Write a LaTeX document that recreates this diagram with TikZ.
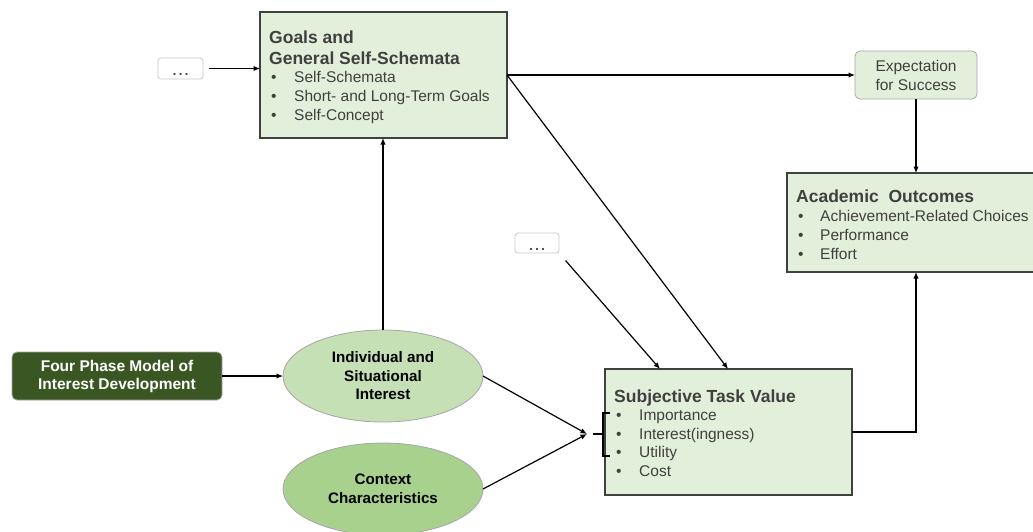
\documentclass[tikz,border=0pt]{standalone}
\usepackage{fontspec}
\setmainfont{Liberation Sans}
\usetikzlibrary{arrows.meta,shapes.geometric}
\definecolor{boxfill}{HTML}{E2EFDA}
\definecolor{boxdraw}{HTML}{404040}
\definecolor{ellA}{HTML}{C5E0B4}
\definecolor{ellB}{HTML}{A9D18E}
\definecolor{darkgr}{HTML}{3A5723}
\definecolor{txtgray}{HTML}{404040}
\definecolor{lightedge}{HTML}{A6A6A6}
\definecolor{dotedge}{HTML}{C8C8C8}
\newcommand\bodyfnt{\fontsize{15.5}{19}\selectfont}
\newcommand\titlefnt{\fontsize{17.5}{21}\selectfont\bfseries}
\begin{document}
\begin{tikzpicture}[x=1pt,y=-1pt,
  greenbox/.style={draw=boxdraw,fill=boxfill,line width=1.2pt,inner sep=0pt,outer sep=0pt,anchor=north west},
  ttl/.style={anchor=base west,inner sep=0pt,text=txtgray,font=\titlefnt},
  itm/.style={anchor=base west,inner sep=0pt,text=txtgray,font=\bodyfnt},
  ell/.style={ellipse,draw=lightedge,line width=0.8pt,inner sep=0pt,outer sep=0pt,minimum width=200,minimum height=92,align=center,font=\fontsize{15.2}{18.5}\selectfont\bfseries},
  dotbox/.style={draw=dotedge,fill=white,rounded corners=3pt,line width=0.8pt,inner sep=0pt,outer sep=0pt,text=txtgray,font=\fontsize{19}{19}\selectfont},
  arr/.style={-{Latex[length=6.5pt,width=5.5pt]},line width=1.2pt,black},
  ln/.style={line width=1.2pt,black}]
\useasboundingbox (0,0) rectangle (1033,531);

% Goals box
\node[greenbox,minimum width=247,minimum height=126] (goals) at (260,12) {};
\node[ttl] (gt1) at (269,43) {Goals and};
\node[ttl] (gt2) at (269,64) {General Self-Schemata};
\node[itm] (gb1) at (271,82) {•};
\node[itm] (gi1) at (294,82) {Self-Schemata};
\node[itm] (gb2) at (271,101) {•};
\node[itm] (gi2) at (294,101) {Short- and Long-Term Goals};
\node[itm] (gb3) at (271,120) {•};
\node[itm] (gi3) at (294,120) {Self-Concept};

% Academic outcomes
\node[greenbox,minimum width=252,minimum height=99] (acad) at (787,173) {};
\node[ttl] (at1) at (796,202) {Academic\ \ Outcomes};
\node[itm] (ab1) at (798,221) {•};
\node[itm] (ai1) at (820,221) {Achievement-Related Choices};
\node[itm] (ab2) at (798,240) {•};
\node[itm] (ai2) at (820,240) {Performance};
\node[itm] (ab3) at (798,259) {•};
\node[itm] (ai3) at (820,259) {Effort};

% Subjective task value
\node[greenbox,minimum width=247,minimum height=126] (stv) at (605,369) {};
\node[ttl] (st1) at (614,402) {Subjective Task Value};
\node[itm] (sb1) at (616,420) {•};
\node[itm] (si1) at (639,420) {Importance};
\node[itm] (sb2) at (616,439) {•};
\node[itm] (si2) at (639,439) {Interest(ingness)};
\node[itm] (sb3) at (616,457) {•};
\node[itm] (si3) at (639,457) {Utility};
\node[itm] (sb4) at (616,476) {•};
\node[itm] (si4) at (639,476) {Cost};

% Expectation
\node[draw=lightedge,fill=boxfill,rounded corners=5pt,line width=0.8pt,minimum width=122,minimum height=48,inner sep=0pt,outer sep=0pt,align=center,text=txtgray,font=\fontsize{15.5}{19}\selectfont] (exp) at (916,75) {Expectation\\for Success};

% dots
\node[dotbox,minimum width=45,minimum height=21] (dots1) at (180.5,68.5) {\raisebox{-7pt}[0pt][0pt]{…}};
\node[dotbox,minimum width=44,minimum height=20] (dots2) at (537,243) {\raisebox{-7pt}[0pt][0pt]{…}};

% Four phase
\node[draw=lightedge,fill=darkgr,rounded corners=5pt,line width=0.8pt,minimum width=210,minimum height=48,inner sep=0pt,outer sep=0pt,align=center,text=white,font=\fontsize{15.5}{18}\selectfont\bfseries] (four) at (117,376) {Four Phase Model of\\Interest Development};

% Ellipses
\node[ell,fill=ellA] (indiv) at (383,376) {Individual and\\Situational\\Interest};
\node[ell,fill=ellB] (ctx) at (383,489) {Context\\Characteristics};

% bracket
\coordinate (tip) at (587,434);
\coordinate (brk) at (603,434);
\draw[ln] ([xshift=6]tip) -- (brk);
\draw[ln] (610,413) -- (603,413) -- (603,456) -- (610,456);

% connectors
\draw[arr,shorten <=6pt] (dots1.east) -- (goals.west |- dots1.east);
\draw[arr] (goals.east) -- (exp.west);
\draw[arr] (goals.east) -- (728,369);
\draw[arr,shorten <=10pt] (dots2.south east) -- (660,369);
\draw[arr] (exp.south) -- (acad.north -| exp.south);
\draw[arr] (stv.east) -| (acad.south -| exp.south);
\draw[arr] (four.east) -- (indiv.west);
\draw[arr] (indiv.north) -- (goals.south -| indiv.north);
\draw[arr] (indiv.east) -- (tip);
\draw[arr] (ctx.east) -- (tip);
\end{tikzpicture}
\end{document}
